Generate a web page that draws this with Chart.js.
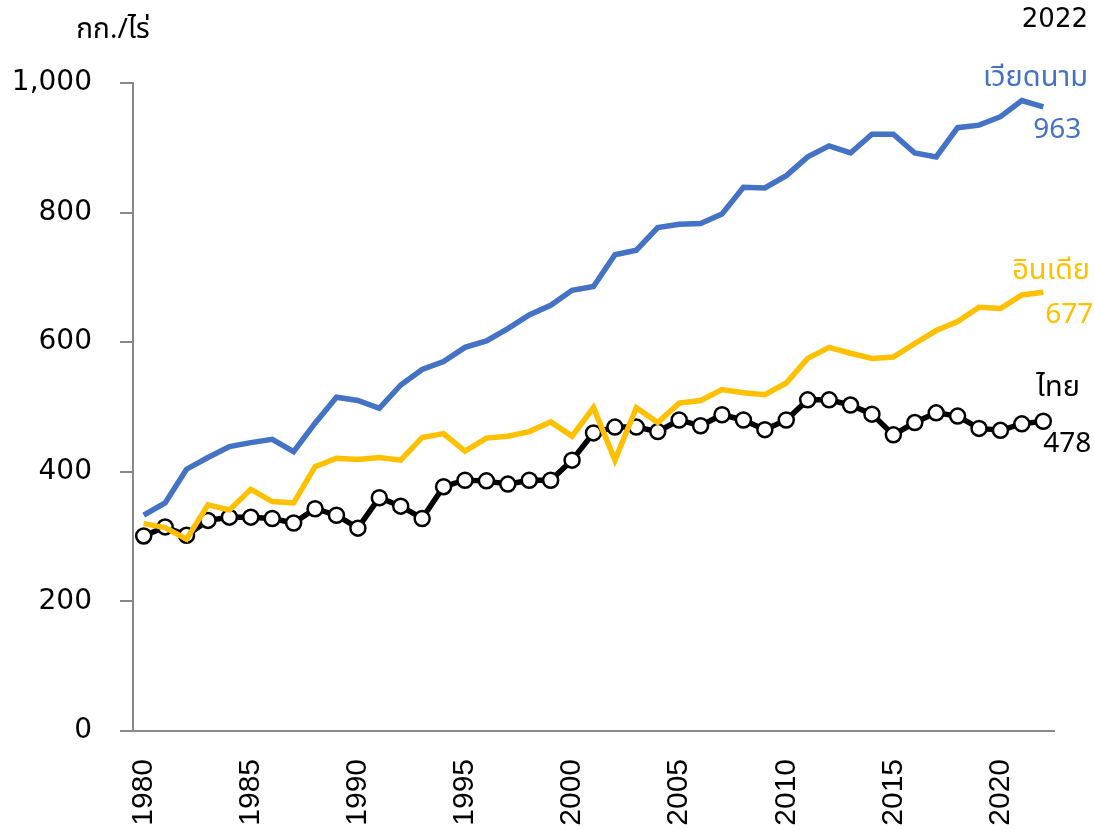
<!DOCTYPE html>
<html>
<head>
<meta charset="utf-8">
<script src="https://cdn.jsdelivr.net/npm/chart.js@4"></script>
<style>
  body { margin: 0; background: #fff; }
  #wrap { width: 1094px; height: 830px; }
</style>
</head>
<body>
<div id="wrap"><canvas id="chart" width="1094" height="830"></canvas></div>
<script>
// rice yield, kg per rai
const years = [];
for (let y = 1980; y <= 2022; y++) years.push(String(y));

const vietnam = [333, 352, 404, 422, 439, 445, 450, 431, 475, 515,
  510, 498, 534, 558, 570, 592, 602, 621, 642, 657,
  680, 686, 735, 742, 777, 782, 783, 798, 839, 838,
  857, 886, 903, 892, 921, 921, 892, 886, 931, 935,
  948, 973, 963];

const india = [320, 314, 296, 349, 341, 373, 354, 352, 408, 421,
  419, 422, 418, 453, 459, 432, 452, 455, 462, 477,
  455, 499, 418, 499, 476, 506, 510, 527, 522, 519,
  537, 575, 592, 583, 575, 577, 598, 618, 632, 654,
  652, 673, 677];

const thailand = [301, 315, 302, 325, 330, 330, 328, 321, 343, 333,
  313, 360, 347, 328, 377, 387, 386, 381, 387, 387,
  418, 460, 469, 469, 462, 480, 471, 488, 480, 465,
  480, 511, 511, 503, 489, 457, 476, 491, 486, 467,
  464, 474, 478];

const seriesNames = ['เวียดนาม', 'อินเดีย', 'ไทย'];
const seriesColors = ['#4472C4', '#FFC000', '#000000'];
const yTicks = [0, 200, 400, 600, 800, 1000];

const FONT = "'Noto Sans', 'Noto Sans Thai', Tahoma, sans-serif";
const NUMFONT = "'DejaVu Sans', sans-serif";

// names + last values at the end of each line
const endLabels = {
  id: 'endLabels',
  afterDatasetsDraw(chart) {
    const ctx = chart.ctx;
    const nameDy = [-29, -22, -34];
    const nameRight = [1088, 1090, 1080];
    const valDx = [-10, 2, 0];
    ctx.save();
    chart.data.datasets.forEach((ds, i) => {
      const meta = chart.getDatasetMeta(i);
      const last = meta.data[meta.data.length - 1];
      const val = ds.data[ds.data.length - 1];
      ctx.fillStyle = seriesColors[i];
      ctx.textBaseline = 'middle';
      ctx.font = '29px ' + FONT;
      ctx.textAlign = 'right';
      ctx.fillText(seriesNames[i], nameRight[i], last.y + nameDy[i]);
      ctx.font = '28px ' + FONT;
      ctx.textAlign = 'left';
      ctx.fillText(String(val), last.x + valDx[i], last.y + 23);
    });
    // unit and year captions
    ctx.fillStyle = '#000';
    ctx.font = '28px ' + FONT;
    ctx.textAlign = 'center';
    ctx.fillText('กก./ไร่', 113, 30);
    ctx.textAlign = 'right';
    ctx.font = '26px ' + NUMFONT;
    ctx.fillText('2022', 1088, 20);
    ctx.restore();
  }
};

new Chart(document.getElementById('chart'), {
  type: 'line',
  data: {
    labels: years,
    datasets: [
      { label: seriesNames[0], data: vietnam, borderColor: seriesColors[0], borderWidth: 5.5,
        pointRadius: 0, order: 3 },
      { label: seriesNames[1], data: india, borderColor: seriesColors[1], borderWidth: 5.5,
        pointRadius: 0, order: 1 },
      { label: seriesNames[2], data: thailand, borderColor: seriesColors[2], borderWidth: 5.5,
        pointRadius: 7.5, pointBorderWidth: 2.5, pointBackgroundColor: '#fff',
        pointBorderColor: '#000', order: 2 }
    ]
  },
  options: {
    responsive: false,
    animation: false,
    layout: { padding: { top: 83, right: 40, left: 0, bottom: 0 } },
    plugins: { legend: { display: false }, tooltip: { enabled: false } },
    scales: {
      x: {
        offset: true,
        grid: { drawOnChartArea: false, drawTicks: false },
        border: { color: '#888', width: 2 },
        ticks: {
          autoSkip: false, minRotation: 90, maxRotation: 90, padding: 28,
          color: '#000', font: { family: "'Liberation Sans', Arial, sans-serif", size: 30 },
          callback: function (v, i) { const y = +years[i]; return y % 5 === 0 ? years[i] : ''; }
        },
        afterFit: s => { s.height = 99; s.paddingLeft = 0; s.paddingRight = 0; }
      },
      y: {
        min: 0, max: 1000,
        afterBuildTicks: s => { s.ticks = yTicks.map(v => ({ value: v })); },
        grid: { drawOnChartArea: false, tickLength: 13, color: '#888', lineWidth: 2 },
        border: { color: '#888', width: 2 },
        ticks: { padding: 28, color: '#000', font: { family: NUMFONT, size: 28 } },
        afterFit: s => { s.width = 133; }
      }
    }
  },
  plugins: [endLabels]
});
</script>
</body>
</html>
